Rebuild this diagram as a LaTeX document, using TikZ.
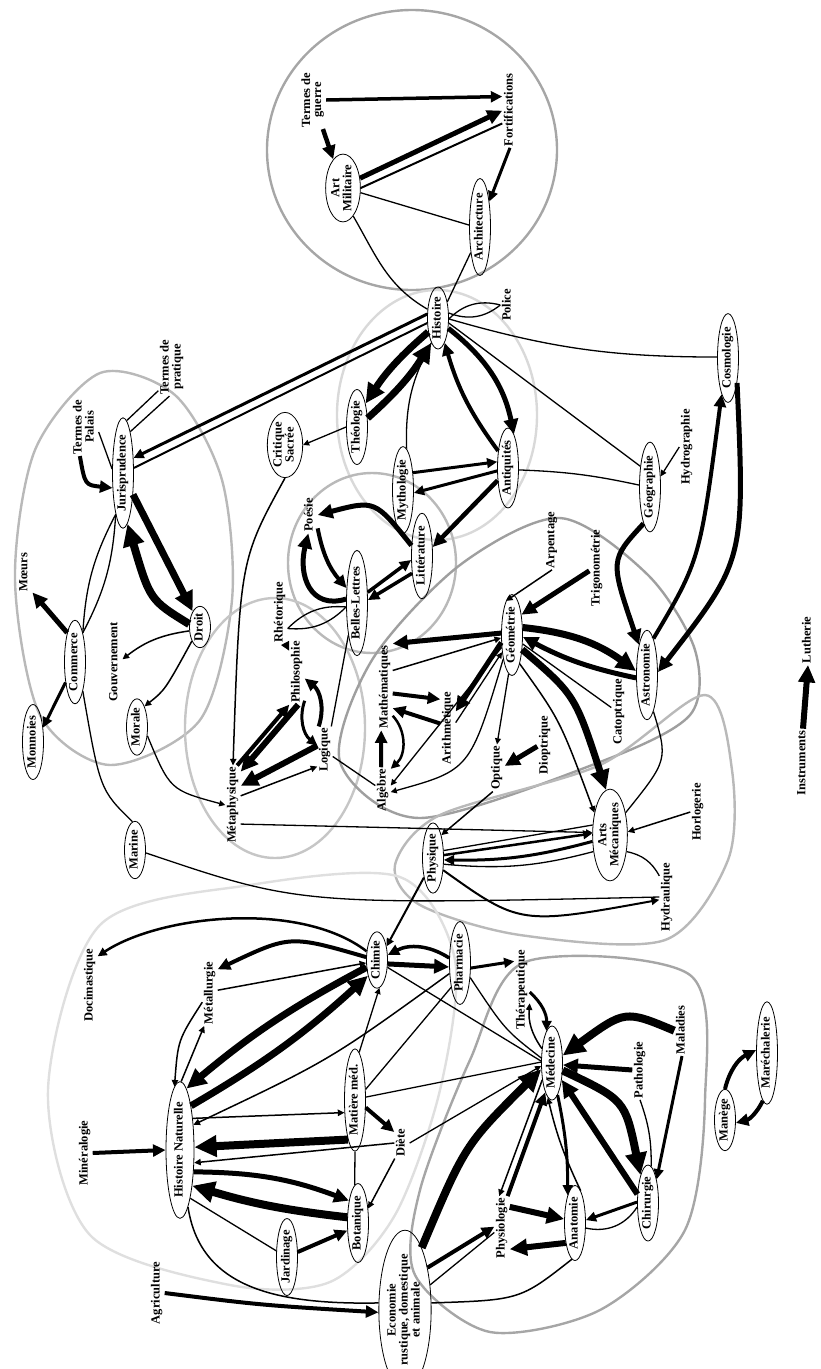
\documentclass[tikz,border=0pt]{standalone}
\usepackage{fontspec}
\setmainfont{Liberation Serif}
\usepackage{graphicx}
\usetikzlibrary{shapes.geometric, arrows.meta}
\newcommand{\labfont}{\fontsize{12.5}{13}\selectfont\bfseries}
\newcommand{\vt}[1]{\rotatebox{90}{\begin{tabular}{@{}c@{}}#1\end{tabular}}}
\renewcommand{\arraystretch}{0.85}
\tikzset{
  dom/.style={ellipse, draw, line width=0.8pt, inner sep=0.5pt,
    minimum width=21pt, font=\labfont},
  lbl/.style={inner sep=1.5pt, font=\labfont},
  ren/.style={-{Triangle[length=3pt 2.4, width=3pt 2.2]}, line width=#1},
  ren/.default=1.3pt,
  lien/.style={line width=#1},
  lien/.default=1.3pt,
  clus/.style={draw=#1, line width=2.4pt}
}
\begin{document}
\begin{tikzpicture}[x=1pt, y=-1pt]
\useasboundingbox (0,0) rectangle (820,1369);
% domaines
\draw[clus=gray!70] (412,150) ellipse [x radius=145, y radius=140];
\draw[clus=gray!55] plot[smooth cycle] coordinates {(100,373) (175,395) (222,480) (232,600) (200,720) (110,765) (40,715) (15,580) (35,450)};
\draw[clus=gray!30] (437,415) ellipse [x radius=100, y radius=125];
\draw[clus=gray!55] (372,563) ellipse [x radius=84, y radius=90];
\draw[clus=gray!45] (275,728) ellipse [x radius=90, y radius=130];
\draw[clus=gray!75] plot[smooth cycle] coordinates {(340,762) (372,660) (460,565) (560,518) (648,575) (695,650) (690,715) (600,762) (420,818)};
\draw[clus=gray!55] plot[smooth cycle] coordinates {(395,865) (440,815) (600,765) (705,695) (732,770) (728,860) (665,940) (520,935) (420,905)};
\draw[clus=gray!25] plot[smooth cycle] coordinates {(400,877) (250,885) (100,925) (48,1090) (90,1235) (230,1285) (330,1282) (395,1215) (440,1090) (455,960)};
\draw[clus=gray!70] plot[smooth cycle] coordinates {(525,962) (690,975) (705,1100) (685,1230) (600,1310) (490,1332) (415,1275) (420,1190) (470,1060)};

% Art militaire
\node (guerre)   [lbl] at (313,100)  {\vt{Termes de\\guerre}};
\node (artmil)   [dom] at (343,188)  {\vt{Art\\Militaire}};
\node (fortif)   [lbl] at (510,110)  {\vt{Fortifications}};
\node (archi)    [dom] at (480,227)  {\vt{Architecture}};
\node (histoire) [dom] at (438,318)  {\vt{Histoire}};
\node (police)   [lbl] at (508,305)  {\vt{Police}};
% Jurisprudence
\node (palais)   [lbl] at (85,427)   {\vt{Termes de\\Palais}};
\node (pratique) [lbl] at (172,367)  {\vt{Termes de\\pratique}};
\node (juris)    [dom] at (123,473)  {\vt{Jurisprudence}};
\node (droit)    [dom] at (200,627)  {\vt{Droit}};
\node (moeurs)   [lbl] at (25,572)   {\vt{Mœurs}};
\node (commerce) [dom] at (75,662)   {\vt{Commerce}};
\node (gouv)     [lbl] at (115,662)  {\vt{Gouvernement}};
\node (monnoies) [dom] at (33,742)   {\vt{Monnoies}};
\node (morale)   [dom] at (137,727)  {\vt{Morale}};
\node (marine)   [dom] at (135,850)  {\vt{Marine}};
% Histoire, Belles-Lettres, Philosophie
\node (theol)    [dom] at (357,427)  {\vt{Théologie}};
\node (critique) [dom] at (285,445)  {\vt{Critique\\Sacrée}};
\node (mytho)    [dom] at (403,490)  {\vt{Mythologie}};
\node (antiq)    [dom] at (508,468)  {\vt{Antiquités}};
\node (poesie)   [lbl] at (310,515)  {\vt{Poésie}};
\node (belles)   [dom] at (357,603)  {\vt{Belles-Lettres}};
\node (litt)     [dom] at (422,556)  {\vt{Littérature}};
\node (rhetor)   [lbl] at (280,612)  {\vt{Rhétorique}};
\node (philo)    [lbl] at (297,672)  {\vt{Philosophie}};
\node (logique)  [lbl] at (325,750)  {\vt{Logique}};
\node (metaph)   [lbl] at (233,805)  {\vt{Métaphysique}};
% Mathematiques
\node (arpent)   [lbl] at (552,540)  {\vt{Arpentage}};
\node (trigo)    [lbl] at (597,568)  {\vt{Trigonométrie}};
\node (geom)     [dom] at (512,635)  {\vt{Géométrie}};
\node (astro)    [dom] at (647,675)  {\vt{Astronomie}};
\node (geog)     [dom] at (650,487)  {\vt{Géographie}};
\node (hydrog)   [lbl] at (687,447)  {\vt{Hydrographie}};
\node (cosmo)    [dom] at (728,358)  {\vt{Cosmologie}};
\node (math)     [lbl] at (385,687)  {\vt{Mathématiques}};
\node (arith)    [lbl] at (448,728)  {\vt{Arithmétique}};
\node (algebre)  [lbl] at (383,790)  {\vt{Algèbre}};
\node (optique)  [lbl] at (497,768)  {\vt{Optique}};
\node (diopt)    [lbl] at (545,745)  {\vt{Dioptrique}};
\node (catopt)   [lbl] at (619,712)  {\vt{Catoptrique}};
% Physique
\node (artsmec)  [dom] at (610,835)  {\vt{Arts\\Mécaniques}};
\node (physique) [dom] at (433,858)  {\vt{Physique}};
\node (horlog)   [lbl] at (698,812)  {\vt{Horlogerie}};
\node (hydraul)  [lbl] at (667,897)  {\vt{Hydraulique}};
% Histoire naturelle
\node (pharma)   [dom] at (460,963)  {\vt{Pharmacie}};
\node (chimie)   [dom] at (377,960)  {\vt{Chimie}};
\node (docima)   [lbl] at (90,985)   {\vt{Docimastique}};
\node (metall)   [lbl] at (210,993)  {\vt{Métallurgie}};
\node (mineral)  [lbl] at (85,1153)  {\vt{Minéralogie}};
\node (histnat)  [dom, minimum width=28pt] at (180,1150) {\vt{Histoire Naturelle}};
\node (matmed)   [dom] at (355,1100) {\vt{Matière méd.}};
\node (diete)    [lbl] at (402,1143) {\vt{Diète}};
\node (botan)    [dom] at (358,1223) {\vt{Botanique}};
\node (jardin)   [dom] at (287,1257) {\vt{Jardinage}};
\node (agri)     [lbl] at (157,1293) {\vt{Agriculture}};
\node (econ)     [dom] at (405,1310) {\vt{Economie\\rustique, domestique\\et animale}};
% Medecine
\node (therap)   [lbl] at (522,990)  {\vt{Thérapeutique}};
\node (medecine) [dom] at (552,1063) {\vt{Médecine}};
\node (patho)    [lbl] at (640,1070) {\vt{Pathologie}};
\node (malad)    [lbl] at (682,1030) {\vt{Maladies}};
\node (chirur)   [dom] at (648,1203) {\vt{Chirurgie}};
\node (anat)     [dom] at (575,1223) {\vt{Anatomie}};
\node (physio)   [lbl] at (502,1228) {\vt{Physiologie}};
\node (marech)   [dom] at (767,1053) {\vt{Maréchalerie}};
\node (manege)   [dom] at (725,1120) {\vt{Manège}};
\node (instr)    [lbl] at (803,763)  {\vt{Instruments}};
\node (luth)     [lbl] at (808,640)  {\vt{Lutherie}};

% renvois : art militaire
\draw[ren=3.5pt] (guerre.east) -- (fortif.120);
\draw[ren=4.5pt] (guerre) -- (artmil);
\draw[ren=5pt] (artmil.30) -- (fortif.185);
\draw[lien=2pt] (artmil.0) -- (fortif.240);
\draw[ren=3pt] (fortif.south) -- (archi.70);
\draw[lien] (artmil.-15) -- (archi.170);
\draw[lien] (artmil.-70) to[out=-60,in=150] (histoire.140);
\draw[lien] (archi.-110) -- (histoire.60);
\draw[lien] (police.west) to[bend left=30] (histoire.25);
\draw[lien] (police.west) to[bend right=30] (histoire.-5);
% histoire
\draw[ren=3pt] (histoire.160) -- (juris.55);
\draw[lien=2pt] (histoire.205) -- (juris.25);
\draw[ren=7pt] (histoire.235) to[bend right=8] (theol.70);
\draw[ren=7pt] (theol.40) to[bend right=8] (histoire.255);
\draw[ren] (theol.west) -- (critique.east);
\draw[ren=1.5pt] (critique.south) .. controls (240,560) .. (metaph.north);
\draw[ren=5pt] (histoire.-45) to[bend left=20] (antiq.80);
\draw[ren=4pt] (antiq.120) to[bend left=10] (histoire.-75);
\draw[lien] (histoire.-105) to[bend right=15] (mytho.85);
\draw[ren=3pt] (mytho.60) -- (antiq.150);
\draw[ren=3pt] (antiq.195) -- (mytho.-15);
\draw[ren=4.5pt] (antiq.230) -- (litt.40);
\draw[lien] (histoire.-25) -- (geog.115);
\draw[lien] (histoire.-5) to[bend right=8] (cosmo.175);
\draw[lien] (antiq.-10) to[bend left=5] (geog.170);
% geographie, astronomie
\draw[ren=5pt] (geog.-100) .. controls (610,560) .. (astro.105);
\draw[ren=4pt] (astro.80) .. controls (700,560) .. (cosmo.-100);
\draw[ren=5pt] (cosmo.-70) .. controls (745,560) .. (astro.15);
\draw[ren] (hydrog.west) -- (geog.45);
% mathematiques
\draw[ren=1.5pt] (arpent.south) -- (geom.100);
\draw[ren=5pt] (trigo.200) -- (geom.65);
\draw[ren=7pt] (geom.35) to[bend left=15] (astro.160);
\draw[ren=5pt] (astro.195) to[bend left=8] (geom.-10);
\draw[ren=5pt] (geom.170) -- (math.80);
\draw[ren=1.5pt] (math.65) -- (geom.195);
\draw[ren=5pt] (geom.-145) -- (arith.65);
\draw[ren=1.3pt] (arith.35) -- (geom.-120);
\draw[ren=4pt] (math.-40) -- (arith.105);
\draw[ren=4pt] (arith.150) -- (math.-70);
\draw[ren=4pt] (algebre.95) -- (math.-95);
\draw[ren=2.5pt] (math.-75) to[bend left=45] (algebre.70);
\draw[ren=1.3pt] (geom.-130) .. controls (455,705) .. (algebre.30);
\draw[ren=1.3pt] (geom.-110) .. controls (470,770) .. (algebre.-15);
\draw[ren=1.3pt] (geom.-95) -- (optique.north);
\draw[ren=5pt] (diopt.190) -- (optique.15);
\draw[ren=7pt] (geom.-55) .. controls (575,695) .. (artsmec.95);
\draw[ren=1.5pt] (geom.-75) .. controls (560,720) .. (artsmec.125);
\draw[lien] (geom.-40) -- (catopt.150);
% physique
\draw[ren=1.5pt] (optique.-100) -- (physique.70);
\draw[ren=2.5pt] (physique.15) -- (artsmec.175);
\draw[ren=3pt] (artsmec.200) to[bend left=8] (physique.-10);
\draw[lien] (physique.35) -- (artsmec.150);
\draw[lien] (physique.-30) to[bend right=10] (artsmec.225);
\draw[ren=2pt] (physique.-50) .. controls (520,925) .. (hydraul.200);
\draw[lien] (marine.-15) .. controls (300,905) .. (hydraul.180);
\draw[ren=2pt] (physique.-115) -- (chimie.55);
\draw[ren=1.5pt] (horlog.west) -- (artsmec.10);
\draw[lien] (artsmec.-45) to[bend left=25] (hydraul.110);
\draw[lien] (astro.-80) .. controls (668,760) .. (artsmec.55);
\draw[ren=1.3pt] (metaph.-68) -- (artsmec.172);
% philosophie
\draw[ren=4pt] (metaph.84) -- (philo.south west);
\draw[ren=6pt] (philo.-88) -- (metaph.77);
\draw[ren=6pt] (logique.150) -- (metaph.68);
\draw[ren=1.5pt] (metaph.50) -- (logique.245);
\draw[ren=4pt] (logique.105) to[bend right=35] (philo.-40);
\draw[ren=3pt] (philo.-75) to[bend right=35] (logique.150);
\draw[lien] (logique.-40) -- (algebre.150);
\draw[ren=1.3pt] (morale.-40) .. controls (170,790) .. (metaph.west);
\draw[ren=2.5pt] (rhetor.-80) -- (philo.110);
\draw[lien] (belles.-160) to[bend left=25] (rhetor.-65);
\draw[lien] (belles.-160) to[bend right=25] (rhetor.-65);
\draw[lien] (belles.-105) -- (logique.75);
% belles-lettres
\draw[ren=5pt] (litt.135) .. controls (375,500) .. (poesie.east);
\draw[ren=4pt] (poesie.-60) to[bend right=15] (belles.125);
\draw[ren=5pt] (belles.160) .. controls (310,610) and (298,575) .. (poesie.-95);
\draw[ren=3.5pt] (belles.45) -- (litt.200);
\draw[ren=3.5pt] (litt.240) -- (belles.15);
% jurisprudence
\draw[ren=4pt] (palais.-100) .. controls (85,485) .. (juris.-125);
\draw[lien] (palais.-20) -- (juris.160);
\draw[lien] (pratique.-120) -- (juris.86);
\draw[lien] (pratique.-95) -- (juris.80);
\draw[ren=7pt] (juris.-65) -- (droit.115);
\draw[ren=8pt] (droit.165) .. controls (150,600) .. (juris.-85);
\draw[ren=5pt] (commerce.105) -- (moeurs.-70);
\draw[lien] (juris.-100) to[bend right=12] (commerce.75);
\draw[lien] (juris.-100) to[bend left=12] (commerce.75);
\draw[ren=1.5pt] (droit.200) to[bend right=15] (gouv.20);
\draw[ren=1.5pt] (droit.-120) .. controls (165,690) .. (morale.70);
\draw[ren=3pt] (commerce.-115) -- (monnoies.55);
\draw[lien] (commerce.-75) .. controls (100,790) .. (marine.95);
% histoire naturelle
\draw[ren=2.5pt] (chimie.140) .. controls (300,900) and (160,915) .. (docima.75);
\draw[ren=4pt] (chimie.165) .. controls (290,935) .. (metall.72);
\draw[ren=1.5pt] (metall.20) -- (chimie.195);
\draw[ren=3.5pt] (pharma.155) to[bend right=30] (chimie.25);
\draw[ren=5pt] (chimie.-20) -- (pharma.-160);
\draw[ren=7pt] (chimie.-145) to[bend right=6] (histnat.84);
\draw[ren=7pt] (histnat.76) to[bend right=6] (chimie.-120);
\draw[ren=1.5pt] (histnat.89) -- (metall.-100);
\draw[ren=1.5pt] (metall.-130) .. controls (178,1040) .. (histnat.95);
\draw[ren=1.5pt] (histnat.68) -- (matmed.-130);
\draw[ren=8pt] (matmed.-100) -- (histnat.11);
\draw[ren=1.5pt] (diete.west) -- (histnat.-42);
\draw[ren=5pt] (histnat.-58) to[bend left=10] (botan.112);
\draw[ren=8pt] (botan.152) to[bend left=5] (histnat.-71);
\draw[lien] (histnat.-78) -- (jardin.150);
\draw[ren=4pt] (jardin.25) -- (botan.-145);
\draw[lien=1.5pt] (histnat.-82) .. controls (200,1285) and (270,1305) .. (econ.165);
\draw[ren=4pt] (agri.east) .. controls (260,1305) .. (econ.185);
\draw[ren=4pt] (mineral.east) -- (histnat.west);
\draw[ren=4pt] (matmed.-35) -- (diete.125);
\draw[ren=1.5pt] (diete.-115) -- (botan.55);
\draw[lien] (matmed.-90) -- (botan.95);
\draw[ren=1.3pt] (matmed.85) -- (chimie.-85);
\draw[lien] (pharma.-110) -- (matmed.45);
\draw[ren=1.5pt] (pharma.-135) .. controls (330,1060) .. (histnat.62);
% medecine
\draw[ren=3pt] (pharma.-25) -- (therap.105);
\draw[ren=3pt] (therap.-15) to[bend left=25] (medecine.100);
\draw[ren=1.5pt] (medecine.125) to[bend left=20] (therap.-60);
\draw[ren=8pt] (malad.185) .. controls (625,1010) .. (medecine.35);
\draw[ren=5pt] (patho.west) -- (medecine.-10);
\draw[ren=8pt] (medecine.-35) .. controls (625,1100) .. (chirur.105);
\draw[ren=6pt] (chirur.140) -- (medecine.-60);
\draw[ren=3pt] (malad.south) -- (chirur.70);
\draw[lien] (patho.south) to[bend left=10] (chirur.85);
\draw[ren=3pt] (medecine.-80) to[bend left=6] (anat.105);
\draw[ren=1.5pt] (anat.80) to[bend left=6] (medecine.-97);
\draw[ren=1.5pt] (medecine.-120) -- (physio.95);
\draw[ren=4pt] (physio.80) -- (medecine.-103);
\draw[ren=8pt] (econ.75) .. controls (465,1145) .. (medecine.-150);
\draw[ren=4pt] (econ.62) -- (physio.170);
\draw[lien] (econ.45) -- (physio.-150);
\draw[lien=1.5pt] (econ.15) .. controls (520,1300) .. (anat.-95);
\draw[ren=6pt] (physio.70) -- (anat.160);
\draw[ren=6pt] (anat.-115) -- (physio.-70);
\draw[ren=3pt] (chirur.175) -- (anat.15);
\draw[lien] (anat.-25) to[bend right=35] (chirur.-160);
\draw[ren=1.3pt] (diete.east) -- (medecine.-165);
\draw[lien] (matmed.15) -- (medecine.175);
\draw[lien] (pharma.-55) .. controls (505,1030) .. (medecine.155);
\draw[lien] (chimie.-35) -- (medecine.170);
\draw[ren=4pt] (manege.north) to[bend left=25] (marech.165);
\draw[ren=4pt] (marech.-95) to[bend left=25] (manege.-15);
\draw[ren=6pt] (instr.north) -- (luth.south);
\end{tikzpicture}
\end{document}
